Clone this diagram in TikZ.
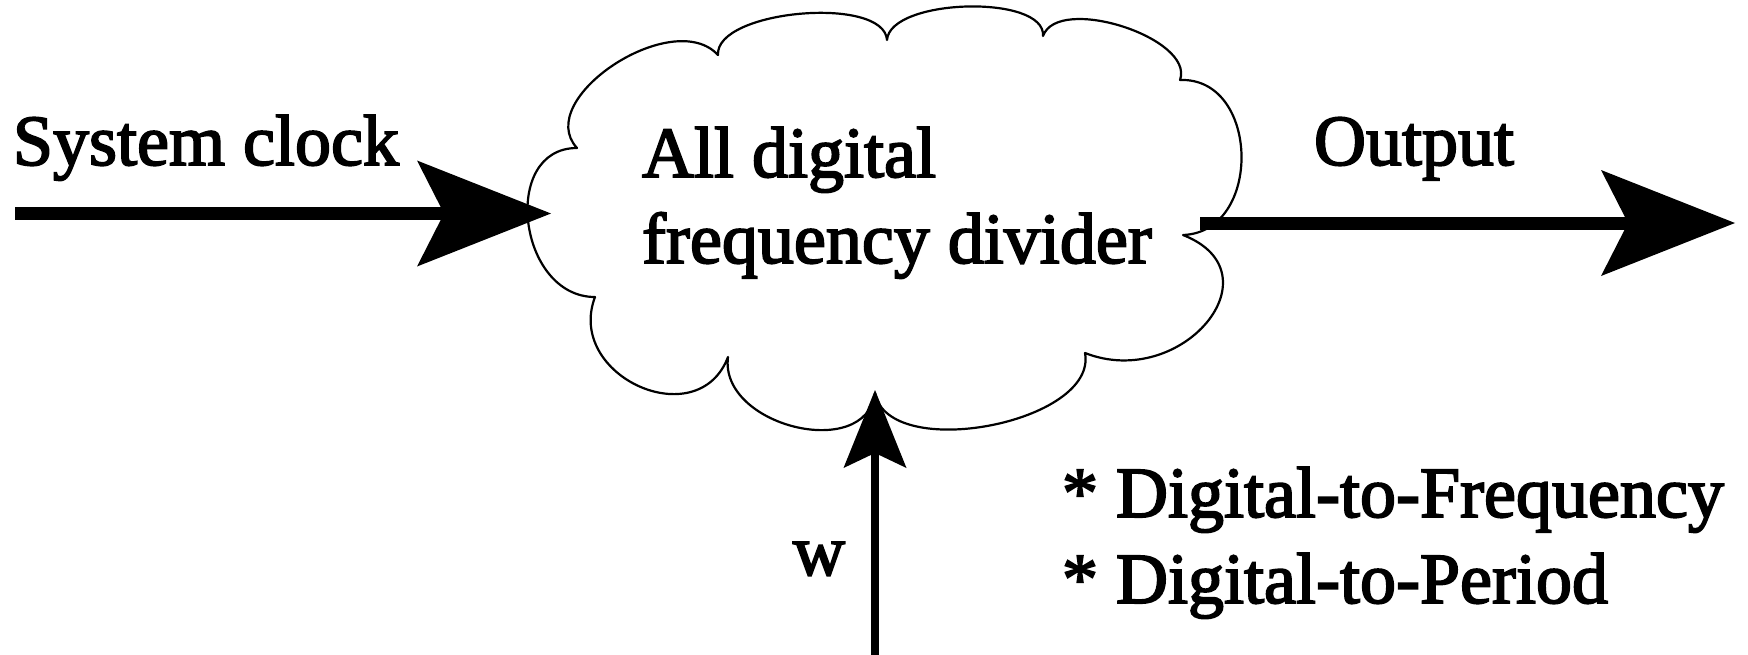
\documentclass[tikz,border=0pt]{standalone}
\usepackage{fontspec}
\setmainfont{Liberation Serif}[FakeBold=2.5]
\usetikzlibrary{arrows.meta}
\begin{document}
\begin{tikzpicture}[x=1pt,y=-1pt,
  lbl/.style={inner sep=0pt,outer sep=0pt,anchor=base west,font=\fontsize{72}{86}\selectfont},
  cloudline/.style={line width=2.2pt,line join=round},
  bigarrow/.style={line width=13pt,-{Stealth[length=134pt,width=106pt,inset=27pt,line width=0pt]}},
  smallarrow/.style={line width=7.5pt,-{Stealth[length=78pt,width=63pt,inset=15pt,line width=0pt]}}]
\useasboundingbox[fill=white] (0,0) rectangle (1748,654);

% cloud outline
\draw[cloudline] (577,148)
  .. controls +(-45,-49) and +(-45,-49) .. (718,55)
  .. controls +(-3,-45) and +(-3,-45) .. (887,40)
  .. controls +(3,-42) and +(3,-42) .. (1043,36)
  .. controls +(15,-42) and +(15,-42) .. (1180,80)
  .. controls +(80,-3) and +(80,-3) .. (1183,235)
  .. controls +(97,38) and +(97,38) .. (1085,353)
  .. controls +(13,70) and +(13,70) .. (875,393)
  .. controls +(-9,69) and +(-9,69) .. (728,357)
  .. controls +(-30,79) and +(-30,79) .. (595,297)
  .. controls +(-77,0) and +(-77,0) .. cycle;

% texts
\node[lbl] (sysclk) at (13,165) {System clock};
\node[lbl,align=left] (cloud) at (642,263) {All digital\\frequency divider};
\node[lbl] (out) at (1314,165) {Output};
\node[lbl] (w) at (793,575) {w};
\node[lbl,align=left] (notes) at (1062,603) {* Digital-to-Frequency\\* Digital-to-Period};

% connector end points
\coordinate (clkin) at (15,213.5);
\coordinate (cloudL) at (551,213.5);
\coordinate (cloudR) at (1200,223);
\coordinate (outend) at (1735,223);
\coordinate (wsrc) at (875,660);
\coordinate (cloudB) at (875,390);

\draw[bigarrow] (clkin) -- (cloudL);
\draw[bigarrow] (cloudR) -- (outend);
\draw[smallarrow] (wsrc) -- (cloudB);
\end{tikzpicture}
\end{document}
